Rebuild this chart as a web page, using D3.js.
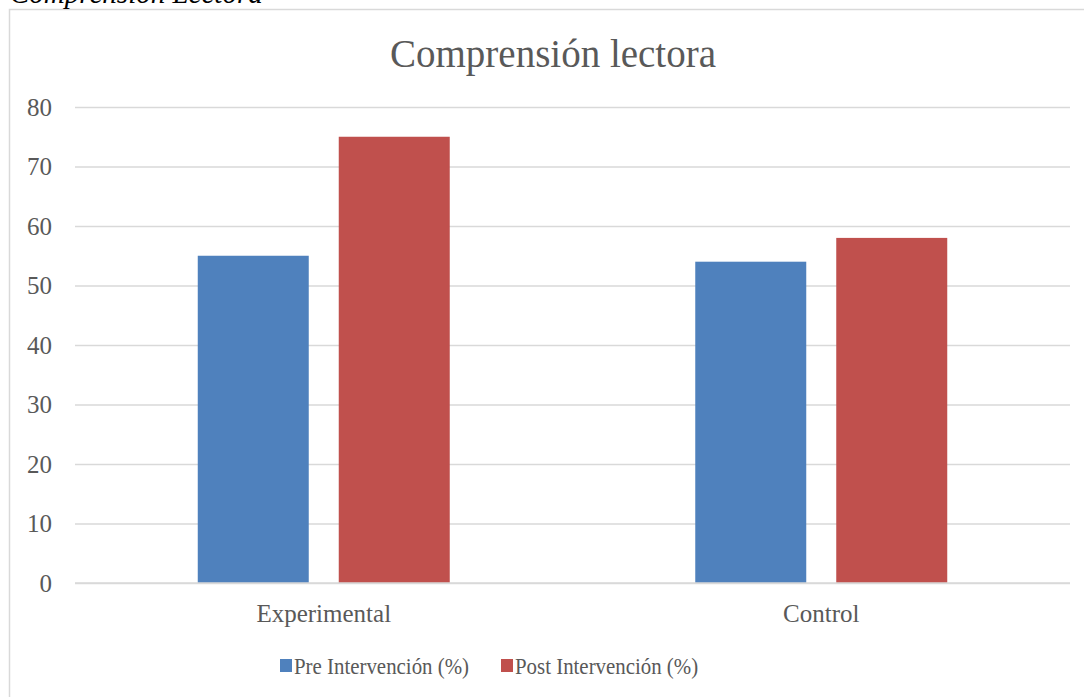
<!DOCTYPE html>
<html>
<head>
<meta charset="utf-8">
<script src="https://cdn.jsdelivr.net/npm/d3@7"></script>
<style>
    body { margin: 0; background: #fff; }
    svg { display: block; font-family: 'Liberation Serif', 'DejaVu Serif', serif; }
</style>
</head>
<body>
<div class="chart-container"></div>
<script>
// data
const categories = ['Experimental', 'Control'];
const seriesNames = ['Pre Intervención (%)', 'Post Intervención (%)'];
const preValues = [55, 54];
const postValues = [75, 58];
const yTicks = [0, 10, 20, 30, 40, 50, 60, 70, 80];
const colors = ['#4f81bd', '#c0504d'];

const data = categories.map((c, i) => ({
    category: c,
    values: [
        { series: seriesNames[0], value: preValues[i] },
        { series: seriesNames[1], value: postValues[i] }
    ]
}));

const W = 1084;
const H = 697;
const margin = { top: 107, right: 14, bottom: 114, left: 75 };
const fontFamily = 'Liberation Serif, DejaVu Serif, serif';

const svg = d3.select('.chart-container')
    .append('svg')
    .attr('width', W)
    .attr('height', H);

// outer frame of the chart object
svg.append('rect')
    .attr('x', 9.5)
    .attr('y', 9.5)
    .attr('width', W + 20)
    .attr('height', H + 20)
    .attr('fill', 'none')
    .attr('stroke', '#d9d9d9')
    .attr('stroke-width', 1.5);

// caption above the frame, cut off by the page edge (as in the source)
svg.append('text')
    .attr('x', 10)
    .attr('y', 3)
    .attr('font-size', 29)
    .attr('font-style', 'italic')
    .attr('fill', '#000')
    .text('Comprensión Lectora');

// scales
const x0 = d3.scaleBand()
    .domain(categories)
    .range([margin.left, W - margin.right])
    .paddingInner(0.4935)
    .paddingOuter(0.4935 / 2);

const x1 = d3.scaleBand()
    .domain(seriesNames)
    .range([0, x0.bandwidth()])
    .paddingInner(0.2128)
    .paddingOuter(0);

const y = d3.scaleLinear()
    .domain([0, 80])
    .range([H - margin.bottom, margin.top]);

const color = d3.scaleOrdinal().domain(seriesNames).range(colors);

// title
svg.append('text')
    .attr('x', 553)
    .attr('y', 67)
    .attr('text-anchor', 'middle')
    .attr('font-size', 39)
    .attr('fill', '#595959')
    .text('Comprensión lectora');

// y axis with gridlines
const yAxis = d3.axisLeft(y)
    .tickValues(yTicks)
    .tickSizeInner(-(W - margin.left - margin.right))
    .tickSizeOuter(0)
    .tickPadding(23);

const yAxisDraw = svg.append('g')
    .attr('class', 'y axis')
    .attr('transform', `translate(${margin.left}, 0)`)
    .call(yAxis);

yAxisDraw.select('.domain').remove();
yAxisDraw.selectAll('.tick line')
    .attr('stroke', '#d9d9d9')
    .attr('stroke-width', 1.5);
yAxisDraw.selectAll('.tick text')
    .attr('font-size', 25)
    .attr('font-family', fontFamily)
    .attr('fill', '#595959');

// bars
const groups = svg.append('g')
    .attr('class', 'bars')
    .selectAll('g')
    .data(data)
    .enter()
    .append('g')
    .attr('transform', d => `translate(${x0(d.category)}, 0)`);

groups.selectAll('rect')
    .data(d => d.values)
    .enter()
    .append('rect')
    .attr('x', d => x1(d.series))
    .attr('y', d => y(d.value))
    .attr('width', x1.bandwidth())
    .attr('height', d => y(0) - y(d.value))
    .attr('fill', d => color(d.series));

// zero line over the bars
svg.append('line')
    .attr('x1', margin.left)
    .attr('x2', W - margin.right)
    .attr('y1', y(0))
    .attr('y2', y(0))
    .attr('stroke', '#d9d9d9')
    .attr('stroke-width', 1.5);

// x axis labels
const xAxis = d3.axisBottom(x0).tickSize(0);
const xAxisDraw = svg.append('g')
    .attr('class', 'x axis')
    .attr('transform', `translate(0, ${y(0)})`)
    .call(xAxis);

xAxisDraw.select('.domain').remove();
xAxisDraw.selectAll('.tick text')
    .attr('y', 39)
    .attr('dy', 0)
    .attr('font-size', 25)
    .attr('font-family', fontFamily)
    .attr('fill', '#595959');

// legend
const legendX = [280, 501];
const legend = svg.append('g')
    .attr('class', 'legend')
    .selectAll('g')
    .data(seriesNames)
    .enter()
    .append('g')
    .attr('transform', (d, i) => `translate(${legendX[i]}, 659)`);

legend.append('rect')
    .attr('width', 12)
    .attr('height', 13)
    .attr('fill', d => color(d));

// the source font is a bit narrower, so squeeze the text horizontally
legend.append('text')
    .attr('transform', 'translate(14, 15) scale(0.87, 1)')
    .attr('font-size', 24)
    .attr('fill', '#595959')
    .text(d => d);
</script>
</body>
</html>
